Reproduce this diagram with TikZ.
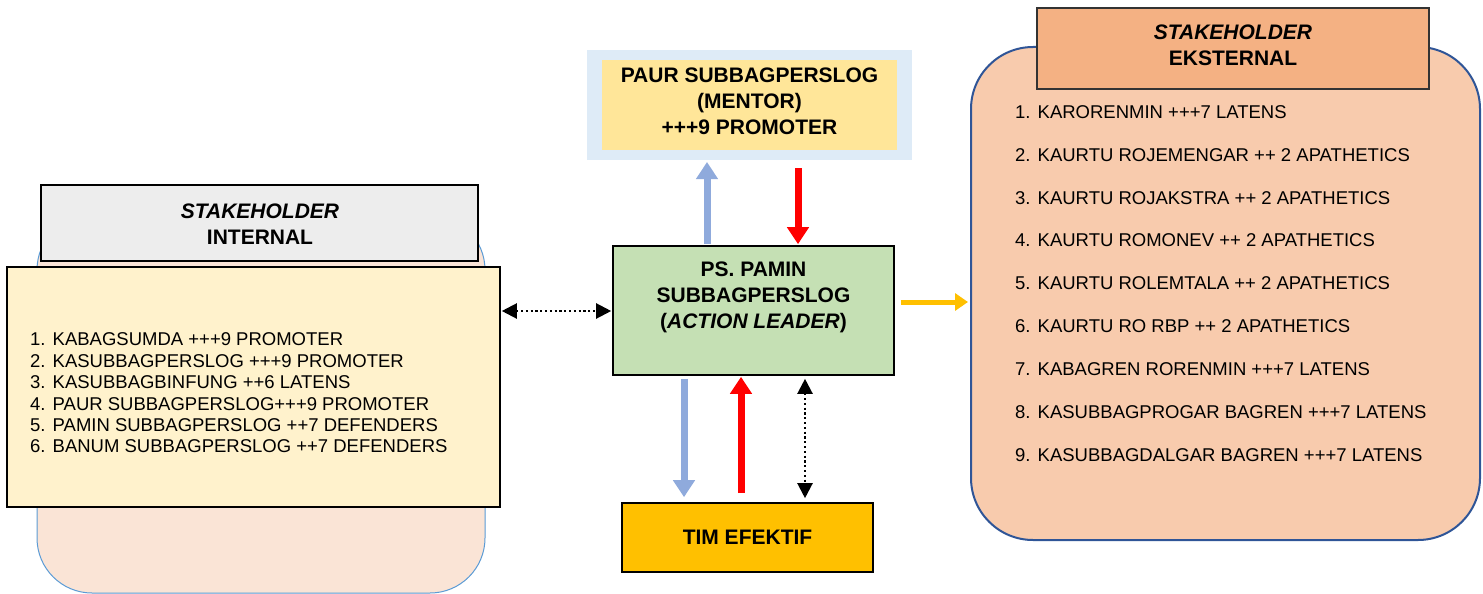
\documentclass[tikz,border=0pt]{standalone}
\usepackage{fontspec}
\setmainfont{Liberation Sans}
\usetikzlibrary{arrows.meta}
\definecolor{intbgc}{HTML}{FAE4D6}
\definecolor{intbdc}{HTML}{5B9BD5}
\definecolor{grayc}{HTML}{EDEDED}
\definecolor{listc}{HTML}{FFF2CC}
\definecolor{mouterc}{HTML}{DEEBF7}
\definecolor{minnerc}{HTML}{FFE699}
\definecolor{greenc}{HTML}{C5E0B4}
\definecolor{timc}{HTML}{FFC000}
\definecolor{extbgc}{HTML}{F8CBAD}
\definecolor{extbdc}{HTML}{2F5597}
\definecolor{extheadc}{HTML}{F4B183}
\definecolor{bluearr}{HTML}{8FAADC}
\definecolor{redarr}{HTML}{FF0000}
\definecolor{orarr}{HTML}{FFC000}
\tikzset{
  boxnode/.style={draw=black, line width=1.6pt, inner sep=0pt},
  plain/.style={inner sep=0pt, outer sep=0pt},
  bigtxt/.style={font=\fontsize{21}{26}\selectfont\bfseries, align=center, inner sep=0pt},
  listtxt/.style={align=left, inner sep=0pt, anchor=west},
  fatarrow/.style={line width=7pt, -{Triangle[width=21pt,length=17pt]}},
  dotarrow/.style={line width=2.2pt, dash pattern=on 2.2pt off 2.6pt, {Triangle[width=15pt,length=15pt]}-{Triangle[width=15pt,length=15pt]}},
}
\newcommand{\num}[1]{\makebox[22.5pt][l]{#1}}
\begin{document}
\begin{tikzpicture}[x=1pt,y=-1pt]
\useasboundingbox (0,0) rectangle (1483,594);
% internal
\node[plain, draw=intbdc, line width=1pt, fill=intbgc, rounded corners=55pt, minimum width=448pt, minimum height=378pt] (intbg) at (261,404) {};
\node[boxnode, fill=grayc, line width=1.2pt, minimum width=437pt, minimum height=76pt] (inthead) at (259.5,223) {};
\node[bigtxt] (intheadtxt) at (260,224) {\itshape STAKEHOLDER\\INTERNAL};
\node[boxnode, fill=listc, minimum width=493pt, minimum height=240pt] (intlist) at (253.5,387) {};
\node[listtxt, font=\fontsize{18.5}{21.4}\selectfont] (intlisttxt) at (30,393) {%
\num{1.}KABAGSUMDA +++9 PROMOTER\\
\num{2.}KASUBBAGPERSLOG +++9 PROMOTER\\
\num{3.}KASUBBAGBINFUNG ++6 LATENS\\
\num{4.}PAUR SUBBAGPERSLOG+++9 PROMOTER\\
\num{5.}PAMIN SUBBAGPERSLOG ++7 DEFENDERS\\
\num{6.}BANUM SUBBAGPERSLOG ++7 DEFENDERS};
% mentor
\node[plain, fill=mouterc, minimum width=325pt, minimum height=110pt] (mentorout) at (749.5,105) {};
\node[plain, fill=minnerc, minimum width=295pt, minimum height=90pt] (mentor) at (749.5,105) {};
\node[bigtxt] (mentortxt) at (749.5,101) {PAUR SUBBAGPERSLOG\\(MENTOR)\\+++9 PROMOTER};
% green
\node[boxnode, fill=greenc, minimum width=281pt, minimum height=129pt] (leader) at (753.5,310.5) {};
\node[bigtxt] (leadertxt) at (753.5,297) {PS. PAMIN\\SUBBAGPERSLOG\\(\textit{ACTION LEADER})};
% tim
\node[boxnode, fill=timc, minimum width=251pt, minimum height=69pt] (tim) at (747.5,537.5) {};
\node[bigtxt] (timtxt) at (747.5,537.5) {TIM EFEKTIF};
% external
\node[plain, draw=extbdc, line width=2pt, fill=extbgc, rounded corners=62pt, minimum width=509pt, minimum height=493pt] (extbg) at (1225.5,293.5) {};
\node[boxnode, draw=black!80, line width=1.3pt, fill=extheadc, minimum width=392pt, minimum height=81pt] (exthead) at (1233,48.5) {};
\node[bigtxt] (extheadtxt) at (1233,45) {\itshape STAKEHOLDER\\EKSTERNAL};
\node[listtxt, font=\fontsize{18.5}{42.9}\selectfont] (extlisttxt) at (1015,283.5) {%
\num{1.}KARORENMIN +++7 LATENS\\
\num{2.}KAURTU ROJEMENGAR ++ 2 APATHETICS\\
\num{3.}KAURTU ROJAKSTRA ++ 2 APATHETICS\\
\num{4.}KAURTU ROMONEV ++ 2 APATHETICS\\
\num{5.}KAURTU ROLEMTALA ++ 2 APATHETICS\\
\num{6.}KAURTU RO RBP ++ 2 APATHETICS\\
\num{7.}KABAGREN RORENMIN +++7 LATENS\\
\num{8.}KASUBBAGPROGAR BAGREN +++7 LATENS\\
\num{9.}KASUBBAGDALGAR BAGREN +++7 LATENS};
% arrow columns
\coordinate (c1) at (707,0);
\coordinate (c2) at (798,0);
\coordinate (c3) at (684,0);
\coordinate (c4) at (741,0);
\coordinate (c5) at (805,0);
\coordinate (r1) at (0,311);
\coordinate (r2) at (0,302);
% arrows
\draw[fatarrow, draw=bluearr] ([yshift=1pt]leader.north -| c1) -- ([yshift=-2pt]mentorout.south -| c1);
\draw[fatarrow, draw=redarr] ([yshift=-8pt]mentorout.south -| c2) -- ([yshift=1pt]leader.north -| c2);
\draw[fatarrow, draw=bluearr] ([yshift=-3pt]leader.south -| c3) -- ([yshift=5pt]tim.north -| c3);
\draw[fatarrow, draw=redarr] ([yshift=9pt]tim.north -| c4) -- ([yshift=-1pt]leader.south -| c4);
\draw[dotarrow] ([yshift=-3pt]leader.south -| c5) -- ([yshift=4pt]tim.north -| c5);
\draw[dotarrow] ([xshift=1pt]intlist.east |- r1) -- ([xshift=-1pt]leader.west |- r1);
\draw[line width=5pt, draw=orarr, -{Triangle[width=17pt,length=13pt]}] ([xshift=6pt]leader.east |- r2) -- ([xshift=-3pt]extbg.west |- r2);
\end{tikzpicture}
\end{document}
